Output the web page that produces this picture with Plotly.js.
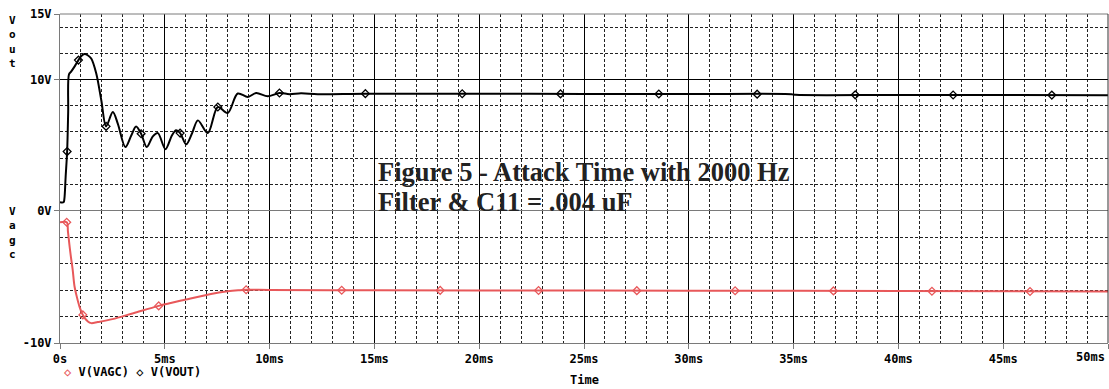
<!DOCTYPE html>
<html>
<head>
<meta charset="utf-8">
<script src="https://cdn.plot.ly/plotly-3.0.1.min.js"></script>
<style>
html,body{margin:0;padding:0;background:#fff;}
#chart{width:1109px;height:389px;}
</style>
</head>
<body>
<div id="chart"></div>
<script>
// ---- data (time in ms, volts) ----
const voutTime = [0, 0.17, 0.21, 0.27, 0.34, 0.39, 0.43, 0.53, 0.7, 0.88, 1.02, 1.17, 1.32, 1.49, 1.73, 1.97, 2.2, 2.52, 2.76, 3.12, 3.4, 3.63, 3.87, 4.14, 4.43, 4.67, 5.03, 5.34, 5.54, 5.73, 6.02, 6.3, 6.58, 7.05, 7.53, 8.0, 8.48, 8.96, 9.36, 9.91, 10.47, 10.95, 11.5, 12.3, 14.57, 20, 25, 30, 34.9, 35.1, 40, 45, 50];
const voutVal  = [0.63, 0.63, 0.9, 2.6, 4.5, 7.5, 10.4, 10.6, 11.0, 11.48, 11.8, 11.94, 11.85, 11.6, 10.46, 8.42, 6.42, 7.52, 6.62, 4.84, 5.73, 6.42, 5.86, 4.84, 5.66, 5.91, 4.68, 5.73, 6.12, 5.91, 5.05, 5.9, 6.88, 5.91, 7.9, 7.44, 8.93, 8.67, 8.97, 8.72, 8.97, 8.88, 8.95, 8.88, 8.92, 8.91, 8.9, 8.89, 8.88, 8.83, 8.82, 8.81, 8.8];
const voutMarkTime = [0.34, 0.88, 2.2, 3.87, 5.73, 7.53, 10.47, 14.57, 19.19, 23.88, 28.57, 33.26, 37.94, 42.61, 47.32];
const voutMarkVal  = [4.5, 11.48, 6.42, 5.86, 5.91, 7.9, 8.97, 8.92, 8.91, 8.9, 8.89, 8.88, 8.83, 8.82, 8.81];

const vagcTime = [0, 0.32, 0.38, 0.45, 0.52, 0.6, 0.69, 0.8, 0.93, 1.09, 1.33, 1.49, 1.8, 2.5, 3.5, 4.71, 6.0, 7.2, 8.0, 8.5, 8.88, 10, 15, 20, 30, 40, 50];
const vagcVal  = [-0.89, -0.89, -1.6, -2.6, -3.5, -4.4, -5.7, -6.5, -7.25, -7.88, -8.38, -8.5, -8.42, -8.2, -7.75, -7.2, -6.72, -6.3, -6.1, -6.02, -5.98, -6.0, -6.02, -6.03, -6.05, -6.08, -6.12];
const vagcMarkTime = [0.32, 1.09, 4.71, 8.88, 13.44, 18.14, 22.83, 27.52, 32.21, 36.9, 41.6, 46.28];
const vagcMarkVal  = [-0.89, -7.88, -7.2, -5.98, -6.02, -6.03, -6.04, -6.05, -6.06, -6.07, -6.09, -6.11];

const xTickVals = [0, 5, 10, 15, 20, 25, 30, 35, 40, 45, 50];
const xTickText = ['0s', '5ms', '10ms', '15ms', '20ms', '25ms', '30ms', '35ms', '40ms', '45ms', ''];
const xLastTickText = '50ms';
const voutTickVals = [10, 15];
const voutTickText = ['10V', '15V'];
const vagcTickVals = [-10, 0];
const vagcTickText = ['-10V', '0V'];

const RED = '#e8585a';
const MONO = '"DejaVu Sans Mono", monospace';
const monoFont = {family: MONO, size: 12, color: '#000', weight: 'bold'};
const GRID_DASH = '3px,2px';

const traces = [
  {x: voutTime, y: voutVal, xaxis: 'x', yaxis: 'y', mode: 'lines', type: 'scatter',
   line: {color: '#000', width: 2, shape: 'spline', smoothing: 0.9}, hoverinfo: 'skip'},
  {x: voutMarkTime, y: voutMarkVal, xaxis: 'x', yaxis: 'y', mode: 'markers', type: 'scatter',
   marker: {symbol: 'diamond-open', size: 6, color: '#000', line: {width: 1.3, color: '#000'}}},
  {x: vagcTime, y: vagcVal, xaxis: 'x', yaxis: 'y2', mode: 'lines', type: 'scatter',
   line: {color: RED, width: 2, shape: 'spline', smoothing: 0.9}},
  {x: vagcMarkTime, y: vagcMarkVal, xaxis: 'x', yaxis: 'y2', mode: 'markers', type: 'scatter',
   marker: {symbol: 'diamond-open', size: 6, color: RED, line: {width: 1.3, color: RED}}}
];

const minorGrid = (t0, dt) => ({tick0: t0, dtick: dt, showgrid: true, griddash: GRID_DASH,
  gridcolor: '#222', gridwidth: 1, ticks: ''});

const layout = {
  width: 1109, height: 389,
  margin: {l: 60, r: 1, t: 14, b: 46, pad: 0},
  paper_bgcolor: '#fff', plot_bgcolor: '#fff',
  showlegend: false,
  xaxis: {
    range: [0, 50], anchor: 'y2', tickmode: 'array', tickvals: xTickVals, ticktext: xTickText,
    showgrid: true, gridcolor: '#000', gridwidth: 1,
    minor: minorGrid(0, 1),
    showline: true, linecolor: '#7a7a7a', linewidth: 1,
    ticks: 'outside', ticklen: 5, tickcolor: '#7a7a7a', tickfont: monoFont,
    zeroline: false, fixedrange: true
  },
  yaxis: {
    domain: [0.4027, 1], range: [0, 15], tickmode: 'array', tickvals: voutTickVals, ticktext: voutTickText,
    showgrid: true, gridcolor: '#000', gridwidth: 1,
    minor: minorGrid(0, 2),
    showline: true, linecolor: '#7a7a7a', linewidth: 1,
    ticks: 'outside', ticklen: 5, tickcolor: '#7a7a7a', tickfont: monoFont,
    zeroline: true, zerolinecolor: '#7a7a7a', zerolinewidth: 1, fixedrange: true
  },
  yaxis2: {
    domain: [0, 0.4027], range: [-10, 0], tickmode: 'array', tickvals: vagcTickVals, ticktext: vagcTickText,
    showgrid: true, gridcolor: '#000', gridwidth: 1,
    minor: minorGrid(0, 2),
    showline: true, linecolor: '#7a7a7a', linewidth: 1,
    ticks: 'outside', ticklen: 5, tickcolor: '#7a7a7a', tickfont: monoFont,
    zeroline: true, zerolinecolor: '#7a7a7a', zerolinewidth: 1, fixedrange: true
  },
  shapes: [
    {type: 'line', xref: 'paper', yref: 'paper', x0: 0, x1: 1, y0: 1, y1: 1,
     line: {color: '#7a7a7a', width: 1}},
    {type: 'line', xref: 'paper', yref: 'paper', x0: 1, x1: 1, y0: 0, y1: 1,
     line: {color: '#333', width: 1}}
  ],
  annotations: [
    {xref: 'x', yref: 'paper', x: xTickVals[xTickVals.length - 1], y: -0.0426, xanchor: 'right', yanchor: 'middle',
     xshift: -1, text: xLastTickText, showarrow: false, font: monoFont},
    {xref: 'paper', yref: 'paper', x: 0.5, y: -0.1125, xanchor: 'center', yanchor: 'middle',
     text: 'Time', showarrow: false, font: monoFont},
    {xref: 'paper', yref: 'paper', x: -0.0458, y: 0.915, xanchor: 'center', yanchor: 'middle',
     text: 'V<br>o<br>u<br>t', showarrow: false, font: {family: MONO, size: 11, color: '#000', weight: 'bold'}},
    {xref: 'paper', yref: 'paper', x: -0.0458, y: 0.334, xanchor: 'center', yanchor: 'middle',
     text: 'V<br>a<br>g<br>c', showarrow: false, font: {family: MONO, size: 11, color: '#000', weight: 'bold'}},
    {xref: 'paper', yref: 'paper', x: 0.0019, y: -0.088, xanchor: 'left', yanchor: 'middle',
     text: '<span style="color:' + RED + '">\u25C7</span> V(VAGC) \u25C7 V(VOUT)', showarrow: false,
     font: monoFont},
    {xref: 'paper', yref: 'paper', x: 0.302, y: 0.5197, xanchor: 'left', yanchor: 'middle',
     text: 'Figure 5 - Attack Time with 2000 Hz', showarrow: false,
     font: {family: '"Liberation Serif", "Times New Roman", serif', size: 26.5, color: '#222', weight: 'bold'}},
    {xref: 'paper', yref: 'paper', x: 0.302, y: 0.4286, xanchor: 'left', yanchor: 'middle',
     text: 'Filter &amp; C11 = .004 uF', showarrow: false,
     font: {family: '"Liberation Serif", "Times New Roman", serif', size: 26.5, color: '#222', weight: 'bold'}}
  ]
};

Plotly.newPlot('chart', traces, layout, {staticPlot: true, displayModeBar: false});
</script>
</body>
</html>
